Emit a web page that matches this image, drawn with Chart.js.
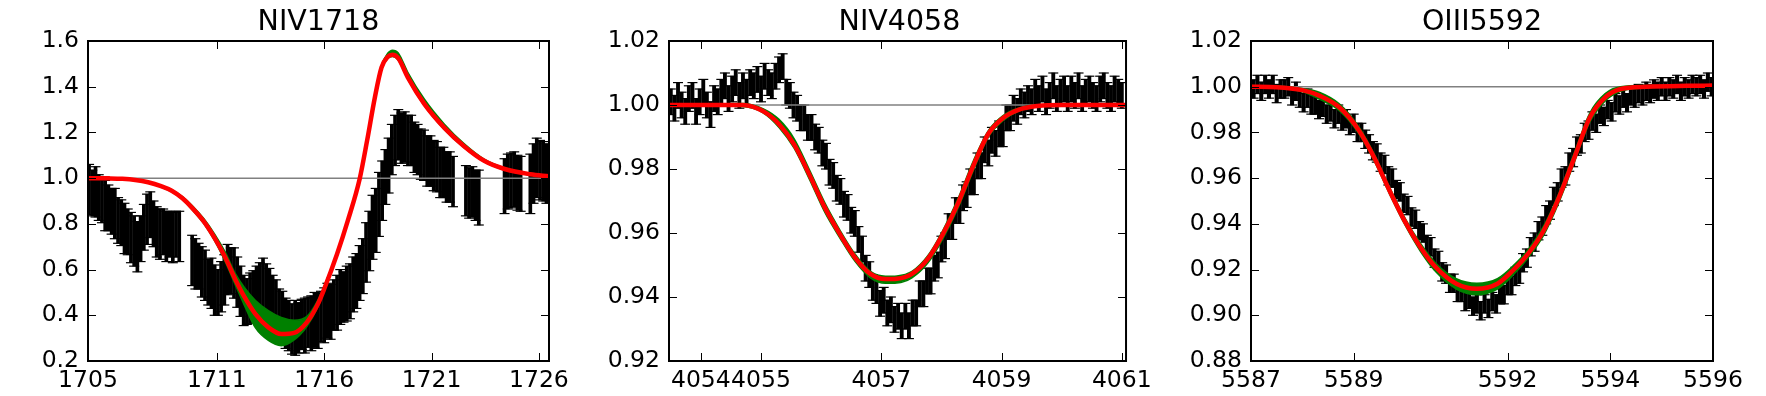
<!DOCTYPE html>
<html>
<head>
<meta charset="utf-8">
<script src="https://cdn.jsdelivr.net/npm/chart.js@4.4.1/dist/chart.umd.min.js"></script>
<style>
  html, body { margin: 0; padding: 0; background: #fff; }
  #wrap { position: relative; width: 1766px; height: 396px; overflow: hidden; background: #fff; }
  .panel { position: absolute; top: 0; height: 396px; }
  .title { position: absolute; top: 7px; font-family: "DejaVu Sans"; font-size: 28.5px; line-height: 28.5px; text-align: center; color: #000; white-space: nowrap; }
</style>
</head>
<body>
<div id="wrap">
  <div class="panel" style="left:0px;width:580px"><canvas id="c1" width="580" height="396"></canvas></div>
  <div class="panel" style="left:580px;width:580px"><canvas id="c2" width="580" height="396"></canvas></div>
  <div class="panel" style="left:1160px;width:606px"><canvas id="c3" width="606" height="396"></canvas></div>
  <div class="title" style="left:88px;width:461px">NIV1718</div>
  <div class="title" style="left:669px;width:461px">NIV4058</div>
  <div class="title" style="left:1251px;width:462px">OIII5592</div>
</div>
<script>
// continuum level (grey line)
const continuum = 1.0;

// ---- NIV1718 ----
const niv1718Start = 1705.05, niv1718Step = 0.15;
const niv1718Flux = [
  0.95, 0.935, 0.94, 0.915, 0.905, 0.88, 0.87, 0.855, 0.845, 0.815,
  0.805, 0.78, 0.765, 0.74, 0.725, 0.70, 0.735, 0.785, 0.82, 0.84,
  0.80, 0.765, 0.755, 0.765, 0.745, 0.755, 0.74, 0.755, 0.745, null,
  null, null, 0.64, 0.625, 0.615, 0.59, 0.575, 0.545, 0.54, 0.51,
  0.50, 0.525, 0.555, 0.60, 0.595, 0.585, 0.545, 0.505, 0.465, 0.46,
  0.475, 0.485, 0.515, 0.52, 0.54, 0.515, 0.505, 0.465, 0.445, 0.405,
  0.395, 0.365, 0.355, 0.34, 0.345, 0.345, 0.36, 0.355, 0.37, 0.365,
  0.38, 0.375, 0.395, 0.40, 0.42, 0.415, 0.445, 0.455, 0.48, 0.48,
  0.495, 0.505, 0.535, 0.55, 0.585, 0.615, 0.675, 0.725, 0.785, 0.815,
  0.885, 0.945, 1.005, 1.055, 1.125, 1.165, 1.19, 1.175, 1.18, 1.165,
  1.165, 1.135, 1.125, 1.105, 1.10, 1.075, 1.075, 1.055, 1.05, 1.025,
  1.025, 1.005, 1.005, 0.985, null, null, null, 0.945, 0.935, 0.94,
  0.925, 0.915, null, null, null, null, null, null, null, 0.965,
  0.985, 0.99, 0.995, 0.98, 0.975, null, null, 0.975, 1.02, 1.045,
  1.035, 1.03, 1.02
];
const niv1718Err = [
  0.11, 0.10, 0.11, 0.10, 0.10, 0.11, 0.10, 0.10, 0.11, 0.10,
  0.10, 0.11, 0.10, 0.11, 0.11, 0.11, 0.10, 0.10, 0.11, 0.10,
  0.10, 0.11, 0.11, 0.10, 0.11, 0.10, 0.11, 0.10, 0.11, null,
  null, null, 0.11, 0.11, 0.10, 0.11, 0.11, 0.10, 0.11, 0.11,
  0.10, 0.11, 0.11, 0.11, 0.10, 0.11, 0.11, 0.11, 0.11, 0.10,
  0.11, 0.11, 0.10, 0.11, 0.11, 0.11, 0.10, 0.11, 0.11, 0.11,
  0.11, 0.11, 0.11, 0.11, 0.12, 0.11, 0.11, 0.12, 0.11, 0.12,
  0.12, 0.12, 0.11, 0.12, 0.12, 0.12, 0.11, 0.12, 0.12, 0.11,
  0.12, 0.12, 0.12, 0.12, 0.12, 0.12, 0.13, 0.13, 0.14, 0.14,
  0.14, 0.13, 0.12, 0.12, 0.11, 0.11, 0.11, 0.11, 0.11, 0.11,
  0.11, 0.11, 0.11, 0.11, 0.11, 0.11, 0.11, 0.11, 0.11, 0.11,
  0.11, 0.11, 0.11, 0.11, null, null, null, 0.11, 0.11, 0.11,
  0.11, 0.12, null, null, null, null, null, null, null, 0.12,
  0.12, 0.12, 0.12, 0.12, 0.12, null, null, 0.13, 0.13, 0.13,
  0.13, 0.13, 0.13
];
const niv1718ModelWave = [1705.0, 1706.0, 1706.6, 1707.2, 1707.8, 1708.4, 1708.9, 1709.4, 1709.85, 1710.4,
  1710.9, 1711.4, 1711.85, 1712.3, 1712.8, 1713.4, 1714.0, 1714.6, 1715.2, 1715.7,
  1716.0, 1716.6, 1717.1, 1717.66, 1718.0, 1718.36, 1718.67, 1718.95, 1719.18, 1719.45,
  1719.9, 1720.67, 1721.6, 1722.5, 1723.45, 1724.4, 1725.6, 1726.47];
const niv1718BestFit = [1.000, 0.999, 0.997, 0.992, 0.982, 0.965, 0.945, 0.912, 0.870, 0.810,
  0.738, 0.652, 0.559, 0.478, 0.405, 0.347, 0.318, 0.323, 0.370, 0.448,
  0.515, 0.668, 0.814, 1.000, 1.165, 1.353, 1.484, 1.530, 1.540, 1.525,
  1.440, 1.324, 1.220, 1.141, 1.076, 1.040, 1.017, 1.008];
const niv1718ModelHi = [1.001, 1.000, 0.998, 0.994, 0.985, 0.969, 0.950, 0.919, 0.880, 0.822,
  0.755, 0.675, 0.585, 0.520, 0.465, 0.420, 0.390, 0.378, 0.395, 0.465,
  0.528, 0.675, 0.820, 1.005, 1.172, 1.360, 1.494, 1.545, 1.560, 1.548,
  1.462, 1.345, 1.236, 1.152, 1.083, 1.045, 1.020, 1.010];
const niv1718ModelLo = [0.999, 0.998, 0.996, 0.990, 0.979, 0.961, 0.940, 0.906, 0.862, 0.800,
  0.725, 0.632, 0.535, 0.440, 0.345, 0.290, 0.267, 0.292, 0.352, 0.435,
  0.505, 0.660, 0.806, 0.992, 1.158, 1.345, 1.476, 1.522, 1.532, 1.516,
  1.432, 1.316, 1.212, 1.134, 1.071, 1.036, 1.014, 1.006];
const niv1718XTicks = [1705, 1711, 1716, 1721, 1726];
const niv1718YTicks = [0.2, 0.4, 0.6, 0.8, 1.0, 1.2, 1.4, 1.6];

// ---- NIV4058 ----
const niv4058Start = 4053.50, niv4058Step = 0.06;
const niv4058Flux = [
  1.001, 0.999, 1.003, 1.000, 0.998, 1.002, 1.003, 0.998, 1.001, 1.004,
  1.000, 0.997, 1.002, 1.001, 1.004, 1.006, 1.002, 1.005, 1.007, 1.003,
  1.006, 1.004, 1.007, 1.006, 1.008, 1.005, 1.009, 1.007, 1.006, 1.009,
  1.011, 1.012, 1.004, 1.003, 1.000, 0.999, 0.996, 0.996, 0.993, 0.993,
  0.990, 0.989, 0.985, 0.984, 0.979, 0.978, 0.974, 0.973, 0.969, 0.968,
  0.964, 0.963, 0.958, 0.955, 0.949, 0.947, 0.943, 0.942, 0.938, 0.939,
  0.935, 0.936, 0.933, 0.934, 0.931, 0.934, 0.931, 0.935, 0.935, 0.941,
  0.941, 0.945, 0.945, 0.949, 0.950, 0.955, 0.956, 0.962, 0.962, 0.967,
  0.967, 0.971, 0.972, 0.976, 0.976, 0.981, 0.981, 0.986, 0.985, 0.989,
  0.988, 0.991, 0.991, 0.996, 0.996, 0.999, 0.998, 1.001, 1.000, 1.002,
  1.001, 1.004, 1.002, 1.005, 1.001, 1.003, 1.006, 1.002, 1.004, 1.005,
  1.002, 1.005, 1.003, 1.006, 1.002, 1.004, 1.005, 1.003, 1.002, 1.005,
  1.006, 1.003, 1.002, 1.005, 1.004, 1.003
];
const niv4058Err = 0.004;
const niv4058ModelWave = [4053.45, 4054.7, 4055.04, 4055.3, 4055.55, 4055.8, 4056.06, 4056.31, 4056.56, 4056.82,
  4057.07, 4057.26, 4057.51, 4057.77, 4058.02, 4058.27, 4058.53, 4058.78, 4059.03, 4059.28,
  4059.6, 4060.0, 4061.1];
const niv4058BestFit = [1.000, 1.000, 0.998, 0.994, 0.9877, 0.9784, 0.968, 0.9597, 0.9524, 0.9472,
  0.9456, 0.9457, 0.9472, 0.9518, 0.9595, 0.969, 0.981, 0.991, 0.996, 0.9985,
  0.9997, 1.000, 1.000];
const niv4058ModelHi = [1.000, 1.0005, 0.9988, 0.9955, 0.9895, 0.980, 0.9695, 0.961, 0.9535, 0.948,
  0.9465, 0.9466, 0.948, 0.9528, 0.9607, 0.9705, 0.9825, 0.992, 0.9968, 0.999,
  1.000, 1.000, 1.000];
const niv4058ModelLo = [1.000, 0.9995, 0.9975, 0.993, 0.9865, 0.977, 0.9665, 0.9585, 0.9512, 0.946,
  0.9443, 0.9444, 0.946, 0.9505, 0.958, 0.9675, 0.9795, 0.990, 0.9952, 0.998,
  0.9995, 1.000, 1.000];
const niv4058XTicks = [4054, 4055, 4057, 4059, 4061];
const niv4058YTicks = [0.92, 0.94, 0.96, 0.98, 1.00, 1.02];

// ---- OIII5592 ----
const oiii5592Start = 5587.05, oiii5592Step = 0.075;
const oiii5592Flux = [
  0.999, 1.001, 0.998, 1.001, 0.999, 1.001, 0.997, 0.999, 0.999, 1.000,
  0.996, 0.998, 0.995, 0.993, 0.995, 0.992, 0.992, 0.990, 0.991, 0.988,
  0.989, 0.986, 0.988, 0.985, 0.986, 0.983, 0.984, 0.980, 0.980, 0.977,
  0.975, 0.972, 0.971, 0.967, 0.966, 0.961, 0.960, 0.955, 0.954, 0.949,
  0.948, 0.943, 0.942, 0.937, 0.936, 0.931, 0.930, 0.925, 0.924, 0.919,
  0.918, 0.914, 0.914, 0.910, 0.910, 0.906, 0.907, 0.904, 0.905, 0.902,
  0.905, 0.903, 0.906, 0.905, 0.909, 0.909, 0.913, 0.913, 0.917, 0.918,
  0.923, 0.925, 0.930, 0.932, 0.937, 0.939, 0.944, 0.946, 0.952, 0.954,
  0.960, 0.961, 0.967, 0.969, 0.974, 0.975, 0.980, 0.981, 0.985, 0.984,
  0.988, 0.987, 0.990, 0.989, 0.993, 0.992, 0.995, 0.993, 0.996, 0.995,
  0.997, 0.996, 0.998, 0.997, 0.999, 0.998, 1.000, 0.998, 1.000, 0.999,
  1.001, 0.998, 1.000, 0.999, 1.001, 1.000, 1.001, 0.999, 1.002, 1.000
];
const oiii5592Err = 0.004;
const oiii5592ModelWave = [5587.0, 5587.5, 5588.0, 5588.34, 5588.72, 5589.1, 5589.4, 5589.7, 5590.0, 5590.3,
  5590.6, 5591.0, 5591.4, 5591.8, 5592.1, 5592.4, 5592.7, 5593.0, 5593.3, 5593.6,
  5593.9, 5594.2, 5594.7, 5595.5, 5596.0];
const oiii5592BestFit = [1.000, 0.9998, 0.9985, 0.996, 0.991, 0.981, 0.969, 0.9545, 0.941, 0.9298,
  0.921, 0.9138, 0.9116, 0.9138, 0.9196, 0.927, 0.937, 0.9516, 0.969, 0.9865,
  0.9953, 0.999, 1.000, 1.0004, 1.0005];
const oiii5592ModelHi = [1.0005, 1.0003, 0.9992, 0.9975, 0.9925, 0.9825, 0.9705, 0.956, 0.9425, 0.9315,
  0.9228, 0.916, 0.914, 0.916, 0.9215, 0.9288, 0.939, 0.9535, 0.9712, 0.9885,
  0.997, 1.000, 1.0005, 1.0006, 1.0006];
const oiii5592ModelLo = [0.9995, 0.9993, 0.9978, 0.9945, 0.9895, 0.9795, 0.9675, 0.953, 0.9395, 0.928,
  0.919, 0.9115, 0.909, 0.9115, 0.9175, 0.9252, 0.935, 0.9495, 0.967, 0.9845,
  0.9938, 0.998, 0.9995, 1.0002, 1.0004];
const oiii5592XTicks = [5587, 5589, 5592, 5594, 5596];
const oiii5592YTicks = [0.88, 0.90, 0.92, 0.94, 0.96, 0.98, 1.00, 1.02];

const TICK_FONT = { family: 'DejaVu Sans', size: 23.5, lineHeight: 1 };

// frame + inward ticks on all four sides, matplotlib style
const frameTicks = {
  id: 'frameTicks',
  afterDatasetsDraw(chart) {
    const { ctx, chartArea: a, scales } = chart;
    ctx.save();
    ctx.strokeStyle = '#000';
    ctx.lineWidth = 1;
    ctx.beginPath();
    scales.x.ticks.forEach(t => {
      const px = Math.round(scales.x.getPixelForValue(t.value)) + 0.5;
      ctx.moveTo(px, a.bottom); ctx.lineTo(px, a.bottom - 8);
      ctx.moveTo(px, a.top); ctx.lineTo(px, a.top + 8);
    });
    scales.y.ticks.forEach(t => {
      const py = Math.round(scales.y.getPixelForValue(t.value)) + 0.5;
      ctx.moveTo(a.left, py); ctx.lineTo(a.left + 8, py);
      ctx.moveTo(a.right, py); ctx.lineTo(a.right - 8, py);
    });
    ctx.stroke();
    ctx.lineWidth = 2;
    ctx.strokeRect(a.left, a.top, a.right - a.left, a.bottom - a.top);
    ctx.restore();
  }
};

function makePanel(id, p) {
  const pts = [];
  p.flux.forEach((f, i) => {
    if (f === null) return;
    const e = Array.isArray(p.err) ? p.err[i] : p.err;
    pts.push({ x: +(p.start + i * p.step).toFixed(3), y: f, e: e });
  });
  const bars = pts.map(q => ({ x: q.x, y: [q.y - q.e, q.y + q.e] }));
  const caps = [];
  pts.forEach(q => {
    caps.push({ x: q.x, y: q.y - q.e });
    caps.push({ x: q.x, y: q.y + q.e });
  });
  const curve = arr => p.modelWave.map((w, i) => ({ x: w, y: arr[i] }));

  new Chart(document.getElementById(id), {
    type: 'scatter',
    data: {
      datasets: [
        { type: 'line', data: curve(p.best), borderColor: '#ff0000', borderWidth: 4.5,
          pointRadius: 0, fill: false, cubicInterpolationMode: 'monotone', order: 0 },
        { type: 'line', data: curve(p.lo), borderColor: '#008000', borderWidth: 1.5,
          pointRadius: 0, fill: false, cubicInterpolationMode: 'monotone', order: 1 },
        { type: 'line', data: curve(p.hi), borderColor: '#008000', borderWidth: 1.5,
          backgroundColor: '#008000', pointRadius: 0, fill: '-1',
          cubicInterpolationMode: 'monotone', order: 1 },
        { type: 'line', data: [{ x: p.xmin, y: continuum }, { x: p.xmax, y: continuum }],
          borderColor: '#808080', borderWidth: 1.5, pointRadius: 0, fill: false, order: 2 },
        { type: 'scatter', data: caps, pointStyle: 'line', pointRadius: 5,
          borderColor: '#000', pointBorderWidth: 1.2, showLine: false, order: 3 },
        { type: 'bar', data: bars, backgroundColor: '#000', borderWidth: 0,
          barThickness: p.barW, grouped: false, order: 4 }
      ]
    },
    options: {
      responsive: false,
      animation: false,
      events: [],
      layout: { autoPadding: false, padding: { left: 0, top: 41, right: p.padRight, bottom: 0 } },
      plugins: { legend: { display: false }, tooltip: { enabled: false }, title: { display: false } },
      scales: {
        x: {
          type: 'linear', min: p.xmin, max: p.xmax, offset: false,
          grid: { display: false, drawTicks: false, offset: false },
          border: { display: false },
          ticks: { autoSkip: false, maxRotation: 0, minRotation: 0, padding: 8, color: '#000',
                   font: TICK_FONT, callback: v => String(v) },
          afterBuildTicks: s => { s.ticks = p.xTicks.map(v => ({ value: v })); },
          afterFit: s => { s.height = 35; }
        },
        y: {
          type: 'linear', min: p.ymin, max: p.ymax, beginAtZero: false,
          grid: { display: false, drawTicks: false },
          border: { display: false },
          ticks: { autoSkip: false, padding: 9, color: '#000', font: TICK_FONT,
                   callback: v => v.toFixed(p.dec) },
          afterBuildTicks: s => { s.ticks = p.yTicks.map(v => ({ value: v })); },
          afterFit: s => { s.width = p.left; }
        }
      }
    },
    plugins: [frameTicks]
  });
}

makePanel('c1', {
  start: niv1718Start, step: niv1718Step, flux: niv1718Flux, err: niv1718Err,
  modelWave: niv1718ModelWave, best: niv1718BestFit, hi: niv1718ModelHi, lo: niv1718ModelLo,
  xTicks: niv1718XTicks, yTicks: niv1718YTicks, xmin: 1705, xmax: 1726.47,
  ymin: 0.2, ymax: 1.6, dec: 1, left: 88, padRight: 31, barW: 3
});
makePanel('c2', {
  start: niv4058Start, step: niv4058Step, flux: niv4058Flux, err: niv4058Err,
  modelWave: niv4058ModelWave, best: niv4058BestFit, hi: niv4058ModelHi, lo: niv4058ModelLo,
  xTicks: niv4058XTicks, yTicks: niv4058YTicks, xmin: 4053.47, xmax: 4061.07,
  ymin: 0.92, ymax: 1.02, dec: 2, left: 89, padRight: 30, barW: 3.2
});
makePanel('c3', {
  start: oiii5592Start, step: oiii5592Step, flux: oiii5592Flux, err: oiii5592Err,
  modelWave: oiii5592ModelWave, best: oiii5592BestFit, hi: oiii5592ModelHi, lo: oiii5592ModelLo,
  xTicks: oiii5592XTicks, yTicks: oiii5592YTicks, xmin: 5587, xmax: 5596,
  ymin: 0.88, ymax: 1.02, dec: 2, left: 91, padRight: 53, barW: 3.4
});
</script>
</body>
</html>
